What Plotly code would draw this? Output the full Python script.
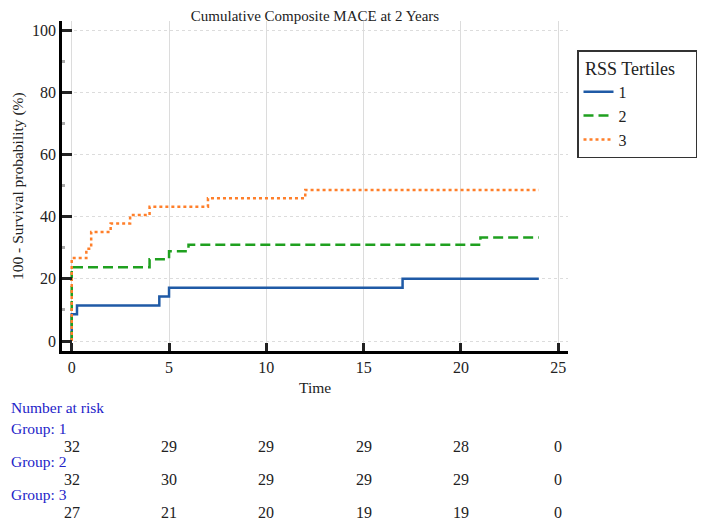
"""Kaplan-Meier style cumulative MACE chart with number-at-risk table."""

import plotly.graph_objects as go

# step curves (time in months, 100 - survival %)
g1_time = [0, 0, 0.27, 4.5, 5, 17, 24]
g1_pct = [0, 8.6, 11.4, 14.3, 17.1, 20.0, 20.0]
g2_time = [0, 0, 4, 5, 6, 21, 24]
g2_pct = [0, 23.7, 26.3, 28.9, 31.0, 33.3, 33.3]
g3_time = [0, 0, 0.75, 1, 2, 3, 4, 7, 12, 24]
g3_pct = [0, 26.7, 29.7, 35.1, 37.8, 40.5, 43.2, 45.9, 48.6, 48.6]

# number at risk
risk_times = [0, 5, 10, 15, 20, 25]
risk_g1 = [32, 29, 29, 29, 28, 0]
risk_g2 = [32, 30, 29, 29, 29, 0]
risk_g3 = [27, 21, 20, 19, 19, 0]

FONT = "Liberation Serif, Times New Roman, serif"
OFF = 8  # page body margin
W, H = 708 - OFF, 524 - OFF
L, R, T, B = 62 - OFF, 140, 21 - OFF, 173
PLOT_W = W - L - R
PLOT_H = H - T - B
NBSP = "\u00a0"


def py(pixel_y):
    """Window pixel row -> paper y."""
    return (H - B - (pixel_y - OFF)) / PLOT_H


def px(pixel_x):
    """Window pixel column -> paper x."""
    return (pixel_x - OFF - L) / PLOT_W


fig = go.Figure()
series = [
    ("1", g1_time, g1_pct, "#1f5aa6", "solid"),
    ("2", g2_time, g2_pct, "#1fa01f", "10px,5px"),
    ("3", g3_time, g3_pct, "#ff7f2a", "3px,3px"),
]
for name, t, y, color, dash in series:
    fig.add_trace(go.Scatter(
        x=t, y=y, mode="lines", name=name, line_shape="hv",
        line=dict(color=color, width=2.5, dash=dash),
    ))

# number-at-risk table
blue = "#2323c8"
fig.add_annotation(text="Number at risk", xref="paper", yref="paper",
                   x=px(OFF + 1), y=py(407), xanchor="left", yanchor="middle",
                   showarrow=False, font=dict(family=FONT, size=15.5, color=blue))
rows = [(risk_g1, 428, 446), (risk_g2, 461, 479), (risk_g3, 494, 512)]
for i, (vals, label_y, num_y) in enumerate(rows):
    fig.add_annotation(text=f"Group: {i + 1}", xref="paper", yref="paper",
                       x=px(OFF + 1), y=py(label_y), xanchor="left", yanchor="middle",
                       showarrow=False, font=dict(family=FONT, size=15.5, color=blue))
    for t, v in zip(risk_times, vals):
        fig.add_annotation(text=str(v), xref="x", yref="paper",
                           x=t, y=py(num_y), xanchor="center", yanchor="middle",
                           showarrow=False, font=dict(family=FONT, size=16, color="#222"))

# axis titles
fig.add_annotation(text="Time", xref="paper", yref="paper", x=px(315), y=py(387),
                   xanchor="center", yanchor="middle", showarrow=False,
                   font=dict(family=FONT, size=15.5, color="#222"))
fig.add_annotation(text="100 - Survival probability (%)", xref="paper", yref="paper",
                   x=px(18), y=py(186), xanchor="center", yanchor="middle",
                   textangle=-90, showarrow=False,
                   font=dict(family=FONT, size=15.5, color="#222"))

fig.update_xaxes(
    range=[-0.5, 25.5], tickvals=[0, 5, 10, 15, 20, 25],
    showline=True, linewidth=2.5, linecolor="black",
    ticks="inside", ticklen=8, tickwidth=2.5, tickcolor="#222",
    showgrid=True, gridcolor="#dcdcdc", gridwidth=1, zeroline=False,
    tickfont=dict(family=FONT, size=16, color="#222"), automargin=False,
)
fig.update_yaxes(
    range=[-3.2, 102.9], tickvals=[0, 20, 40, 60, 80, 100],
    showline=True, linewidth=2.5, linecolor="black",
    ticks="inside", ticklen=10, tickwidth=2.5, tickcolor="#222",
    minor=dict(ticks="inside", ticklen=3, tickcolor="#aaa", dtick=10, tick0=0),
    showgrid=True, gridcolor="#dcdcdc", gridwidth=1, griddash="3px,3px", zeroline=False,
    tickfont=dict(family=FONT, size=16, color="#222"), automargin=False,
)

fig.update_layout(
    width=W, height=H,
    margin=dict(l=L, r=R, t=T, b=B, autoexpand=False),
    paper_bgcolor="white", plot_bgcolor="white",
    title=dict(text="Cumulative Composite MACE at 2 Years", x=(L + PLOT_W / 2) / W,
               xanchor="center", y=1 - 2 / H, yanchor="top", pad=dict(t=0, b=0),
               font=dict(family=FONT, size=15, color="#222")),
    font=dict(family=FONT, color="#222"),
    legend=dict(
        title=dict(text=NBSP + "RSS Tertiles" + NBSP * 4,
                   font=dict(family=FONT, size=18)),
        font=dict(family=FONT, size=16),
        x=px(577), y=py(50), xanchor="left", yanchor="top",
        bordercolor="#333", borderwidth=1.5, bgcolor="white",
        tracegroupgap=0, itemwidth=30,
    ),
    showlegend=True,
)

fig.write_html("out.html")
